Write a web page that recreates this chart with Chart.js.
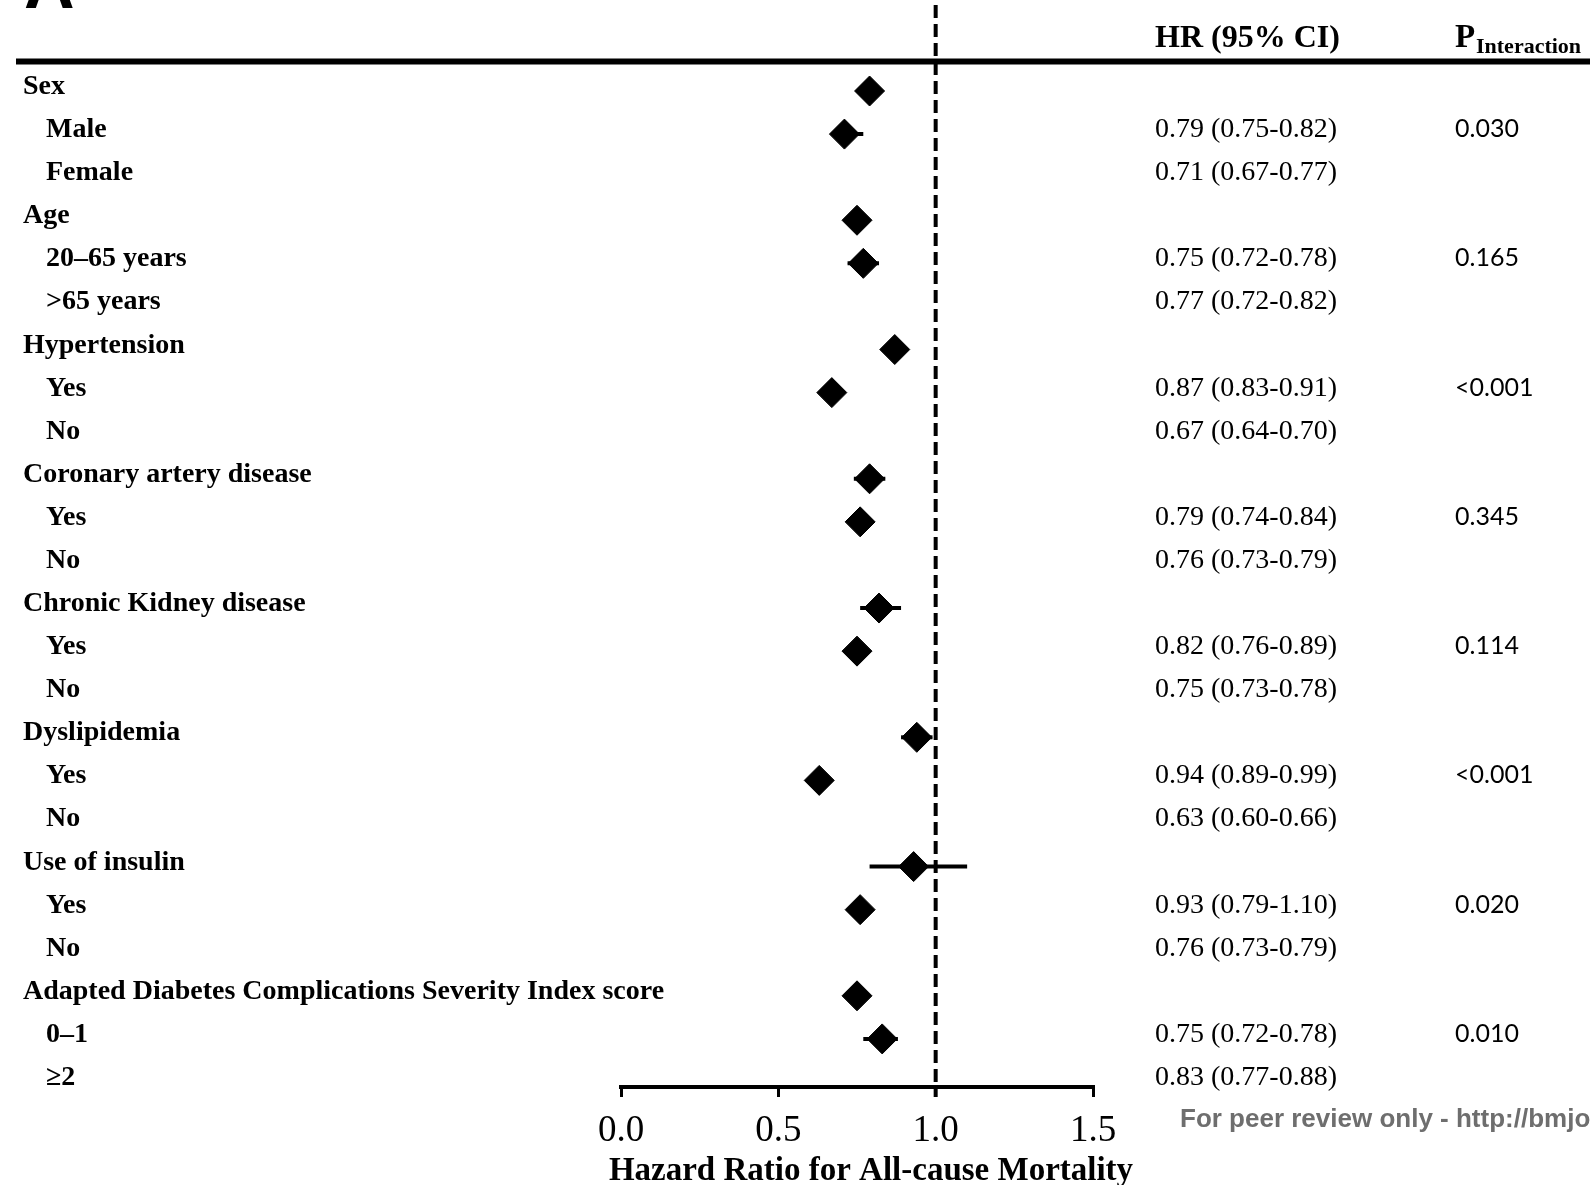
<!DOCTYPE html>
<html>
<head>
<meta charset="utf-8">
<script src="https://cdn.jsdelivr.net/npm/chart.js@4.4.0/dist/chart.umd.min.js"></script>
<style>
  html, body { margin: 0; padding: 0; background: #fff; }
  canvas { display: block; }
</style>
</head>
<body>
<canvas id="forest" width="1590" height="1185"></canvas>
<script>
// groups and their subgroups (row labels)
const groups = ['Sex', 'Age', 'Hypertension', 'Coronary artery disease', 'Chronic Kidney disease',
  'Dyslipidemia', 'Use of insulin', 'Adapted Diabetes Complications Severity Index score'];
const subgroups = [['Male', 'Female'], ['20–65 years', '>65 years'], ['Yes', 'No'], ['Yes', 'No'],
  ['Yes', 'No'], ['Yes', 'No'], ['Yes', 'No'], ['0–1', '≥2']];

// hazard ratios per subgroup (same order as subgroups, flattened)
const hr     = [0.79, 0.71, 0.75, 0.77, 0.87, 0.67, 0.79, 0.76, 0.82, 0.75, 0.94, 0.63, 0.93, 0.76, 0.75, 0.83];
const ciLow  = [0.75, 0.67, 0.72, 0.72, 0.83, 0.64, 0.74, 0.73, 0.76, 0.73, 0.89, 0.60, 0.79, 0.73, 0.72, 0.77];
const ciHigh = [0.82, 0.77, 0.78, 0.82, 0.91, 0.70, 0.84, 0.79, 0.89, 0.78, 0.99, 0.66, 1.10, 0.79, 0.78, 0.88];

// p for interaction, one per group
const pInteraction = ['0.030', '0.165', '<0.001', '0.345', '0.114', '<0.001', '0.020', '0.010'];

const xTicks = [0, 0.5, 1.0, 1.5];
const xTitle = 'Hazard Ratio for All-cause Mortality';

// row layout: header row then two subgroup rows
const rows = [];
groups.forEach((g, gi) => {
  rows.push({ text: g, group: true });
  subgroups[gi].forEach((s, si) => {
    const k = gi * 2 + si;
    rows.push({ text: s, group: false, k: k, p: si === 0 ? pInteraction[gi] : '' });
  });
});

// diamonds sit one row above their text line in the original figure
function diamondRow(k) {
  const r = rows.findIndex(row => row.k === k);
  return r - 1.07;
}

const points = hr.map((v, k) => ({ x: v, y: diamondRow(k) }));

const serif = '"Liberation Serif", "Times New Roman", serif';

const forestPlugin = {
  id: 'forestText',
  beforeDatasetsDraw(chart) {
    const { ctx, scales: { x, y }, chartArea } = chart;
    ctx.save();
    ctx.strokeStyle = '#000';

    // CI whiskers
    ctx.lineWidth = 4;
    hr.forEach((v, k) => {
      const py = y.getPixelForValue(diamondRow(k));
      ctx.beginPath();
      ctx.moveTo(x.getPixelForValue(ciLow[k]), py);
      ctx.lineTo(x.getPixelForValue(ciHigh[k]), py);
      ctx.stroke();
    });

    // reference line at HR = 1
    const rx = x.getPixelForValue(1);
    ctx.setLineDash([13, 6]);
    ctx.beginPath();
    ctx.moveTo(rx, chartArea.top);
    ctx.lineTo(rx, chartArea.bottom + 10);
    ctx.stroke();
    ctx.restore();
  },
  afterDraw(chart) {
    const { ctx, scales: { x, y } } = chart;
    ctx.save();
    ctx.fillStyle = '#000';
    ctx.textBaseline = 'alphabetic';

    // panel letter, mostly cut off at the top
    ctx.font = 'bold 70px "Liberation Sans", Arial, sans-serif';
    ctx.fillText('A', 24, 8);

    // header rule
    const headY = y.getPixelForValue(-0.754);
    ctx.strokeStyle = '#000';
    ctx.lineWidth = 6;
    ctx.beginPath();
    ctx.moveTo(16, headY);
    ctx.lineTo(1590, headY);
    ctx.stroke();

    // column headers
    const hy = y.getPixelForValue(-1.09);
    ctx.font = 'bold 32px ' + serif;
    ctx.fillText('HR (95% CI)', 1155, hy);
    ctx.font = 'bold 33px ' + serif;
    ctx.fillText('P', 1455, hy);
    ctx.font = 'bold 22px ' + serif;
    ctx.fillText('Interaction', 1476, hy + 6);

    // row labels, HR text and p values
    rows.forEach((row, r) => {
      const py = y.getPixelForValue(r);
      ctx.font = 'bold 28px ' + serif;
      ctx.fillText(row.text, row.group ? 23 : 46, py);
      if (!row.group) {
        const k = row.k;
        ctx.font = '28px ' + serif;
        ctx.fillText(hr[k].toFixed(2) + ' (' + ciLow[k].toFixed(2) + '-' + ciHigh[k].toFixed(2) + ')', 1155, py);
        if (row.p) {
          ctx.font = '25px Lato, "Open Sans", sans-serif';
          ctx.fillText(row.p, 1455, py);
        }
      }
    });

    // axis title
    ctx.font = 'bold 33px ' + serif;
    ctx.textAlign = 'center';
    ctx.fillText(xTitle, (x.left + x.right) / 2 + 14, 1180);

    // watermark footer
    ctx.textAlign = 'left';
    ctx.fillStyle = '#6e6e6e';
    ctx.font = 'bold 26px "Liberation Sans", Arial, sans-serif';
    ctx.fillText('For peer review only - http://bmjopen.bmj.com/site/about/guidelines.xhtml', 1180, 1127);
    ctx.restore();
  }
};

new Chart(document.getElementById('forest'), {
  type: 'scatter',
  data: {
    datasets: [{
      data: points,
      pointStyle: 'rectRot',
      pointRadius: 15,
      pointHoverRadius: 15,
      backgroundColor: '#000',
      borderColor: '#000',
      borderWidth: 1
    }]
  },
  options: {
    responsive: false,
    animation: false,
    devicePixelRatio: 1,
    layout: { autoPadding: false, padding: { left: 621, right: 497, top: 5, bottom: 0 } },
    plugins: { legend: { display: false }, tooltip: { enabled: false } },
    scales: {
      x: {
        type: 'linear',
        min: xTicks[0],
        max: xTicks[xTicks.length - 1],
        afterBuildTicks: s => { s.ticks = xTicks.map(v => ({ value: v })); },
        afterFit: s => { s.height = 98; },
        grid: { drawOnChartArea: false, drawTicks: true, tickLength: 10, color: '#000', lineWidth: 3 },
        border: { display: true, color: '#000', width: 4 },
        ticks: {
          color: '#000',
          padding: 12,
          font: { family: serif, size: 37 },
          callback: v => Number(v).toFixed(1)
        }
      },
      y: {
        type: 'linear',
        display: false,
        reverse: true,
        min: -2.066,
        max: 23.046
      }
    }
  },
  plugins: [forestPlugin]
});
</script>
</body>
</html>
